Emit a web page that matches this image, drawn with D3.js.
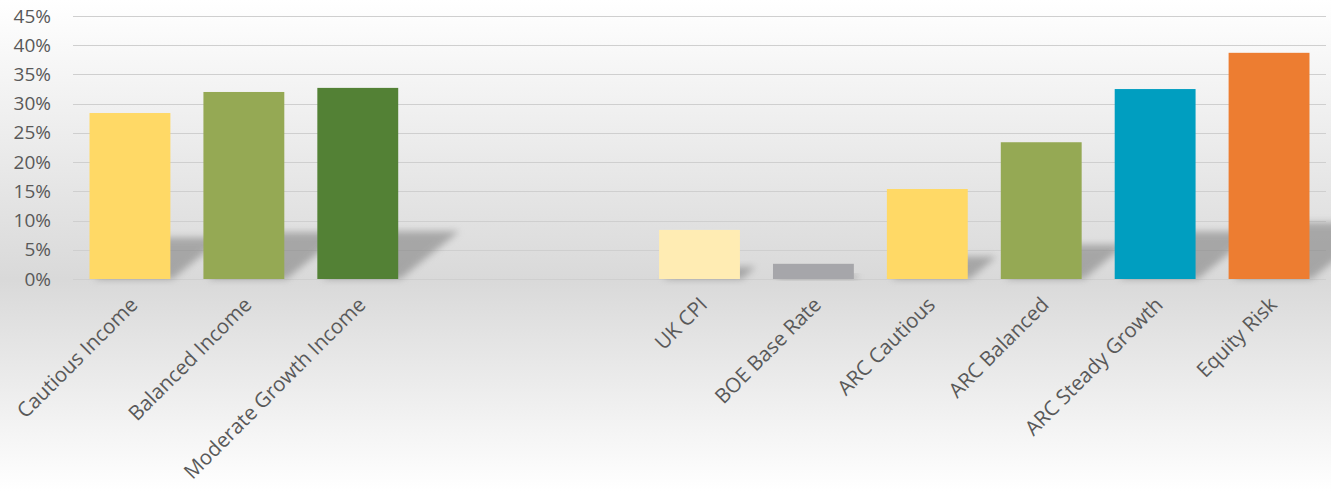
<!DOCTYPE html>
<html>
<head>
<meta charset="utf-8">
<script src="https://cdn.jsdelivr.net/npm/d3@7"></script>
<style>
  html, body { margin: 0; padding: 0; background: #fff; }
  svg { display: block; }
</style>
</head>
<body>
<svg id="chart" width="1331" height="491"></svg>
<script>
const categories = ["Cautious Income", "Balanced Income", "Moderate Growth Income", "", "", "UK CPI", "BOE Base Rate", "ARC Cautious", "ARC Balanced", "ARC Steady Growth", "Equity Risk"];
const values = [28.4, 32.0, 32.7, null, null, 8.4, 2.6, 15.4, 23.4, 32.5, 38.7];
const barColors = ["#FFD966", "#95A954", "#538135", null, null, "#FFECB3", "#A6A6AA", "#FFD966", "#95A954", "#009EC0", "#ED7D31"];
const yTicks = [0, 5, 10, 15, 20, 25, 30, 35, 40, 45];

const W = 1331, H = 491;
const svg = d3.select("#chart");
const defs = svg.append("defs");

const bg = defs.append("linearGradient").attr("id", "bg").attr("x1", 0).attr("y1", 0).attr("x2", 0).attr("y2", 1);
bg.append("stop").attr("offset", "0").attr("stop-color", "#ffffff");
bg.append("stop").attr("offset", "0.57").attr("stop-color", "#d9d9d9");
bg.append("stop").attr("offset", "1").attr("stop-color", "#ffffff");

const blur = defs.append("filter").attr("id", "blur").attr("x", "-50%").attr("y", "-50%").attr("width", "200%").attr("height", "200%");
blur.append("feGaussianBlur").attr("stdDeviation", 3.5);

svg.append("rect").attr("width", W).attr("height", H).attr("fill", "url(#bg)");

const idx = categories.map((d, i) => i);
const x = d3.scaleBand().domain(idx).range([73, 1326]).paddingInner(0.29).paddingOuter(0.145);
const y = d3.scaleLinear().domain([0, 45]).range([279, 16]);

// gridlines
svg.append("g").selectAll("line").data(yTicks).join("line")
  .attr("x1", 73).attr("x2", 1326)
  .attr("y1", d => Math.round(y(d)) + 0.5).attr("y2", d => Math.round(y(d)) + 0.5)
  .attr("stroke", "#cfcfcf").attr("stroke-width", 1.2);

// y axis labels
const yAxis = d3.axisLeft(y).tickValues(yTicks).tickFormat(d => d + "%").tickSize(0).tickPadding(0);
const gy = svg.append("g").attr("transform", "translate(51,0)").call(yAxis);
gy.select(".domain").remove();
gy.selectAll("text").attr("font-family", "'Open Sans', 'Noto Sans', sans-serif").attr("font-size", 19).attr("fill", "#595959");

const barData = idx.filter(i => values[i] != null);

// shadows
svg.append("g").selectAll("path").data(barData).join("path")
  .attr("d", i => {
    const x0 = x(i), x1 = x(i) + x.bandwidth();
    const base = y(0);
    const h = y(0) - y(values[i]);
    const sh = h * 0.25, dx = h * 0.32;
    return `M${x0 + 4},${base} L${x1 + 2},${base} L${x1 + dx},${base - sh} L${x0 + dx},${base - sh} Z`;
  })
  .attr("fill", "#7a7a7a").attr("opacity", 0.55).attr("filter", "url(#blur)");

// bars
svg.append("g").selectAll("rect").data(barData).join("rect")
  .attr("x", i => x(i)).attr("width", x.bandwidth())
  .attr("y", i => y(values[i])).attr("height", i => y(0) - y(values[i]))
  .attr("fill", i => barColors[i]);

// x labels
const xAxis = d3.axisBottom(x).tickFormat(i => categories[i]).tickSize(0).tickPadding(0);
const gx = svg.append("g").attr("transform", "translate(0,279)").call(xAxis);
gx.select(".domain").remove();
gx.selectAll("text")
  .attr("font-family", "'Open Sans', 'Noto Sans', sans-serif").attr("font-size", 20.5).attr("fill", "#595959")
  .attr("text-anchor", "end").attr("dy", null).attr("y", 0)
  .attr("transform", "translate(9,27) rotate(-45)");
</script>
</body>
</html>
